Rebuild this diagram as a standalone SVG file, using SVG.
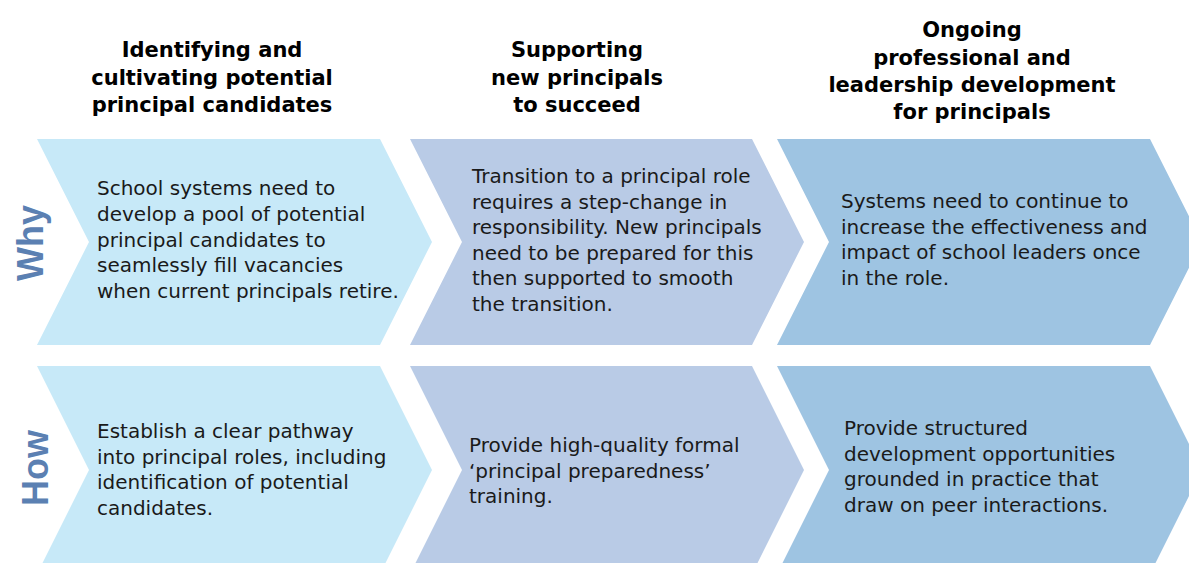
<svg xmlns="http://www.w3.org/2000/svg" width="1189" height="563" viewBox="0 0 1189 563">
<style>
.c1{fill:#C7E9F8}
.c2{fill:#B9CBE6}
.c3{fill:#9EC4E2}
.hd{font-family:"DejaVu Sans",sans-serif;font-weight:bold;font-size:21px;fill:#000;text-anchor:middle}
.bd{font-family:"DejaVu Sans",sans-serif;font-size:20px;fill:#1a1a1a}
.side{font-family:"Liberation Sans",Arial,sans-serif;font-weight:bold;font-size:36px;fill:#5B80B2;text-anchor:middle}
</style>
<rect width="1189" height="563" fill="#ffffff"/>
<g id="header1">
<text class="hd" x="212" y="57">Identifying and</text>
<text class="hd" x="212" y="85">cultivating potential</text>
<text class="hd" x="212" y="112">principal candidates</text>
</g>
<g id="header2">
<text class="hd" x="577" y="57">Supporting</text>
<text class="hd" x="577" y="85">new principals</text>
<text class="hd" x="577" y="112">to succeed</text>
</g>
<g id="header3">
<text class="hd" x="972" y="37">Ongoing</text>
<text class="hd" x="972" y="65">professional and</text>
<text class="hd" x="972" y="92">leadership development</text>
<text class="hd" x="972" y="119">for principals</text>
</g>
<g id="label-why">
<text class="side" transform="translate(43,243) rotate(-90)">Why</text>
</g>
<g id="label-how">
<text class="side" transform="translate(48,468) rotate(-90)">How</text>
</g>
<g id="why-1">
<polygon class="c1" points="37,139 380,139 432,242 380,345 37,345 89,242"/>
<text class="bd" x="97" y="195">School systems need to</text>
<text class="bd" x="97" y="221">develop a pool of potential</text>
<text class="bd" x="97" y="246.5">principal candidates to</text>
<text class="bd" x="97" y="272">seamlessly fill vacancies</text>
<text class="bd" x="97" y="297.5">when current principals retire.</text>
</g>
<g id="why-2">
<polygon class="c2" points="410,139 752,139 804,242 752,345 410,345 462,242"/>
<text class="bd" x="472" y="183">Transition to a principal role</text>
<text class="bd" x="472" y="208.5">requires a step-change in</text>
<text class="bd" x="472" y="234">responsibility. New principals</text>
<text class="bd" x="472" y="259.5">need to be prepared for this</text>
<text class="bd" x="472" y="285">then supported to smooth</text>
<text class="bd" x="472" y="310.5">the transition.</text>
</g>
<g id="why-3">
<polygon class="c3" points="777,139 1150,139 1202,242 1150,345 777,345 829,242"/>
<text class="bd" x="841" y="208">Systems need to continue to</text>
<text class="bd" x="841" y="233.5">increase the effectiveness and</text>
<text class="bd" x="841" y="259">impact of school leaders once</text>
<text class="bd" x="841" y="284.5">in the role.</text>
</g>
<g id="how-1">
<polygon class="c1" points="37,366 380,366 432,470 380,574 37,574 89,470"/>
<text class="bd" x="97" y="438">Establish a clear pathway</text>
<text class="bd" x="97" y="463.5">into principal roles, including</text>
<text class="bd" x="97" y="489">identification of potential</text>
<text class="bd" x="97" y="514.5">candidates.</text>
</g>
<g id="how-2">
<polygon class="c2" points="410,366 752,366 804,470 752,574 410,574 462,470"/>
<text class="bd" x="469" y="452">Provide high-quality formal</text>
<text class="bd" x="469" y="477.5">‘principal preparedness’</text>
<text class="bd" x="469" y="503">training.</text>
</g>
<g id="how-3">
<polygon class="c3" points="777,366 1150,366 1202,470 1150,574 777,574 829,470"/>
<text class="bd" x="844" y="435">Provide structured</text>
<text class="bd" x="844" y="460.5">development opportunities</text>
<text class="bd" x="844" y="486">grounded in practice that</text>
<text class="bd" x="844" y="511.5">draw on peer interactions.</text>
</g>
<g id="connectors"></g>
</svg>
